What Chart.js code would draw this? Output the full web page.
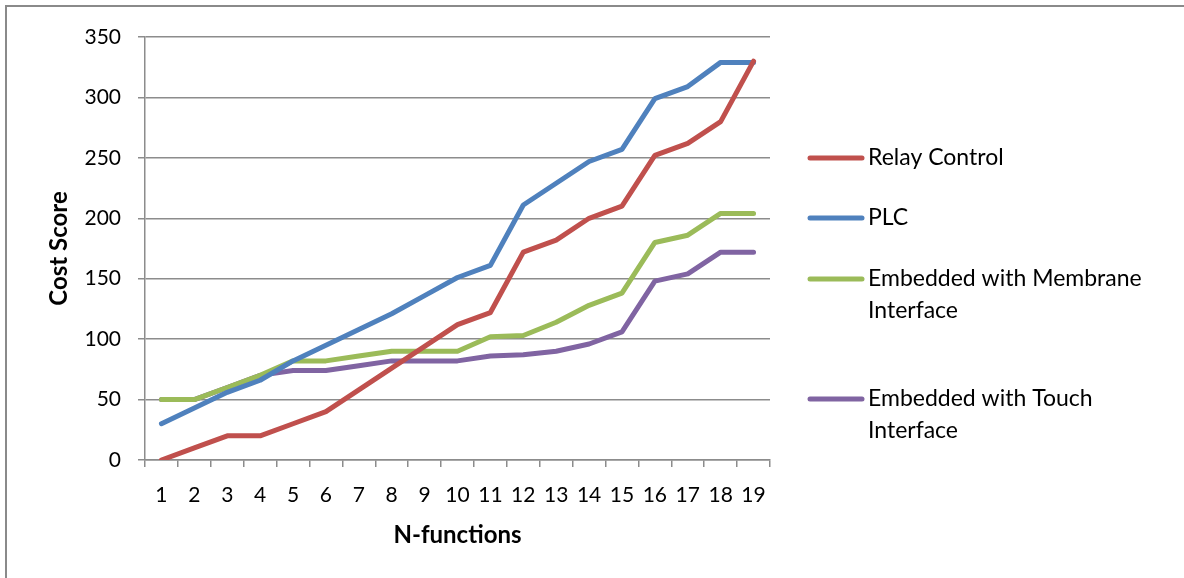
<!DOCTYPE html>
<html>
<head>
<meta charset="utf-8">
<script src="https://cdn.jsdelivr.net/npm/chart.js@4"></script>
<style>
  html, body { margin: 0; padding: 0; overflow: hidden; background: #fff; }
  #marco {
    position: absolute; left: 5px; top: 5px;
    width: 1220px; height: 620px;
    border: 2px solid #8a8a8a;
  }
  #caja { position: absolute; left: 0; top: 0; width: 1184px; height: 578px; }
</style>
</head>
<body>
<div id="marco"></div>
<div id="caja"><canvas id="graficoCostos" width="1184" height="578"></canvas></div>
<script>
// ========== DATOS ==========
const funciones = ["1","2","3","4","5","6","7","8","9","10","11","12","13","14","15","16","17","18","19"];
const nombresSeries = ["Relay Control", "PLC", "Embedded with Membrane Interface", "Embedded with Touch Interface"];
const relay     = [0, 10, 20, 20, 30, 40, 58, 76, 94, 112, 122, 172, 182, 200, 210, 252, 262, 280, 330];
const plc       = [30, 43, 56, 66, 82, 95, 108, 121, 136, 151, 161, 211, 229, 247, 257, 299, 309, 329, 329];
const membrana  = [50, 50, 60, 70, 82, 82, 86, 90, 90, 90, 102, 103, 114, 128, 138, 180, 186, 204, 204];
const tactil    = [50, 50, 60, 70, 74, 74, 78, 82, 82, 82, 86, 87, 90, 96, 106, 148, 154, 172, 172];
const ticksY    = [0, 50, 100, 150, 200, 250, 300, 350];

const colores = ["#C0504D", "#4F81BD", "#9BBB59", "#8064A2"];
const FUENTE = "Lato, 'Open Sans', sans-serif";

// ========== LEYENDA A LA DERECHA ==========
const leyendaDerecha = {
  id: 'leyendaDerecha',
  afterDraw(chart) {
    const ctx = chart.ctx;
    const filasY = [158, 218, 279, 399];
    const xLinea = 810, largo = 52, xTexto = 868, anchoMax = 300;
    ctx.save();
    ctx.font = `23px ${FUENTE}`;
    ctx.textBaseline = 'middle';
    ctx.textAlign = 'left';
    chart.data.datasets.forEach((ds, i) => {
      const y = filasY[i];
      ctx.strokeStyle = ds.borderColor;
      ctx.lineWidth = 5;
      ctx.lineCap = 'round';
      ctx.beginPath();
      ctx.moveTo(xLinea, y);
      ctx.lineTo(xLinea + largo, y);
      ctx.stroke();

      // partir el texto en lineas
      const palabras = ds.label.split(' ');
      const lineas = [];
      let actual = '';
      palabras.forEach(p => {
        const prueba = actual ? actual + ' ' + p : p;
        if (ctx.measureText(prueba).width > anchoMax && actual) {
          lineas.push(actual);
          actual = p;
        } else {
          actual = prueba;
        }
      });
      lineas.push(actual);
      ctx.fillStyle = '#000';
      lineas.forEach((l, k) => ctx.fillText(l, xTexto, y + k * 32));
    });
    ctx.restore();
  }
};

// ========== GRAFICO ==========
const series = [relay, plc, membrana, tactil];

new Chart(document.getElementById('graficoCostos'), {
  type: 'line',
  data: {
    labels: funciones,
    datasets: series.map((d, i) => ({
      label: nombresSeries[i],
      data: d,
      borderColor: colores[i],
      backgroundColor: colores[i],
      borderWidth: 5,
      pointRadius: 0,
      tension: 0,
      borderCapStyle: 'round',
      borderJoinStyle: 'round'
    }))
  },
  options: {
    responsive: false,
    animation: false,
    layout: { padding: { top: 37, right: 414, left: 0, bottom: 0 } },
    plugins: {
      legend: { display: false },
      tooltip: { enabled: false }
    },
    scales: {
      x: {
        offset: true,
        grid: {
          offset: true,
          drawOnChartArea: false,
          drawTicks: true,
          tickLength: 7,
          color: '#8c8c8c',
          lineWidth: 1.5
        },
        border: { color: '#8c8c8c', width: 1.5 },
        ticks: {
          color: '#000',
          font: { family: FUENTE, size: 21 },
          padding: 16,
          maxRotation: 0,
          autoSkip: false
        },
        title: {
          display: true,
          text: 'N-functions',
          color: '#000',
          font: { family: FUENTE, size: 24, weight: 'bold' },
          padding: { top: 0, bottom: 28 }
        },
        afterFit(scale) { scale.height = 118; }
      },
      y: {
        min: 0,
        max: 350,
        afterBuildTicks(scale) { scale.ticks = ticksY.map(v => ({ value: v })); },
        grid: {
          color: '#8c8c8c',
          lineWidth: 1.5,
          drawTicks: true,
          tickLength: 7
        },
        border: { color: '#8c8c8c', width: 1.5 },
        ticks: {
          color: '#000',
          font: { family: FUENTE, size: 21 },
          padding: 17
        },
        title: {
          display: true,
          text: 'Cost Score',
          color: '#000',
          font: { family: FUENTE, size: 24, weight: 'bold' },
          padding: { top: 45, bottom: 0 }
        },
        afterFit(scale) { scale.width = 145; }
      }
    }
  },
  plugins: [leyendaDerecha]
});
</script>
</body>
</html>
